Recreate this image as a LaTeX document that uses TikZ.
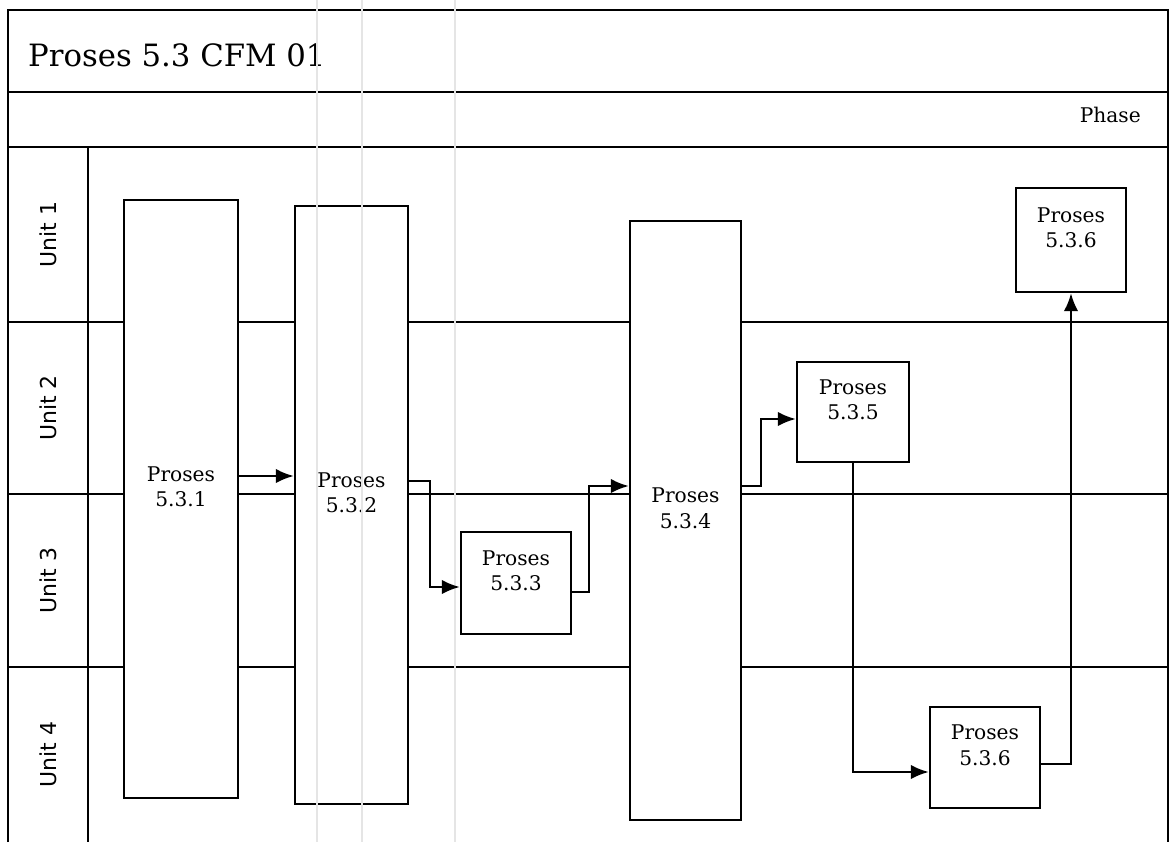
\documentclass[tikz,border=0pt]{standalone}
\usepackage{fontspec}
\setmainfont{DejaVu Serif}
\newfontfamily\lanefont{DejaVu Sans}
\usetikzlibrary{arrows.meta}

\begin{document}
\begin{tikzpicture}[
    x=0.02cm, y=-0.02cm,
    grid/.style={line width=1.2pt},
    box/.style={draw, line width=1.4pt, fill=white, align=center, inner sep=0pt,
      font=\fontsize{11.5}{14.5}\selectfont, text depth=0.5cm},
    arr/.style={-{Latex[length=3.6mm, width=2.9mm]}, line width=1.3pt},
    lane/.style={rotate=90, font=\lanefont\fontsize{12.5}{14}\selectfont}
  ]
    \useasboundingbox (0,0) rectangle (1170,842);
    % frame, title and phase rows
    \draw[grid] (8,842) -- (8,10) -- (1168,10) -- (1168,842);
    \draw[grid] (8,92) -- (1168,92);
    \draw[line width=1.6pt] (8,147) -- (1168,147);
    \draw[grid] (88,147) -- (88,842);
    \foreach \y in {322,494,667}
      \draw[grid] (8,\y) -- (1168,\y);
    \node[anchor=west, font=\fontsize{17.5}{20}\selectfont] (title) at (22,55) {Proses 5.3 CFM 01};
    \node[anchor=east, font=\fontsize{11.5}{14}\selectfont] (phase) at (1147,115) {Phase};

    % lane labels
    \node[lane] (u1) at (48,234.5) {Unit 1};
    \node[lane] (u2) at (48,408) {Unit 2};
    \node[lane] (u3) at (48,580.5) {Unit 3};
    \node[lane] (u4) at (48,754.5) {Unit 4};

    % process boxes
    \node[box, minimum width=2.28cm, minimum height=11.96cm] (b531) at (181,499) {Proses\\5.3.1};
    \node[box, minimum width=2.26cm, minimum height=11.96cm] (b532) at (351.5,505) {Proses\\5.3.2};
    \node[box, minimum width=2.2cm, minimum height=2.04cm] (b533) at (516,583) {Proses\\5.3.3};
    \node[box, minimum width=2.22cm, minimum height=11.98cm] (b534) at (685.5,520.5) {Proses\\5.3.4};
    \node[box, minimum width=2.24cm, minimum height=2.0cm] (b535) at (853,412) {Proses\\5.3.5};
    \node[box, minimum width=2.2cm, minimum height=2.08cm] (b536a) at (1071,240) {Proses\\5.3.6};
    \node[box, minimum width=2.2cm, minimum height=2.02cm] (b536b) at (985,757.5) {Proses\\5.3.6};

    % faint scan lines
    \foreach \x in {317,362,455}
      \draw[black!10, line width=0.8pt] (\x,0) -- (\x,842);

    % flow
    \draw[arr] ([yshift=0.46cm]b531.east) -- ([yshift=0.46cm]b531.east -| b532.west);
    \draw[arr] ([yshift=0.48cm]b532.east) -- ++(21,0) |- ([yshift=-0.08cm]b533.west);
    \draw[arr] ([yshift=-0.18cm]b533.east) -- ++(17,0) |- ([yshift=0.69cm]b534.west);
    \draw[arr] ([yshift=0.69cm]b534.east) -- ++(19,0) |- ([yshift=-0.14cm]b535.west);
    \draw[arr] (b535.south) |- ([yshift=-0.29cm]b536b.west);
    \draw[arr] ([yshift=-0.13cm]b536b.east) -| (b536a.south);
  \end{tikzpicture}
\end{document}
